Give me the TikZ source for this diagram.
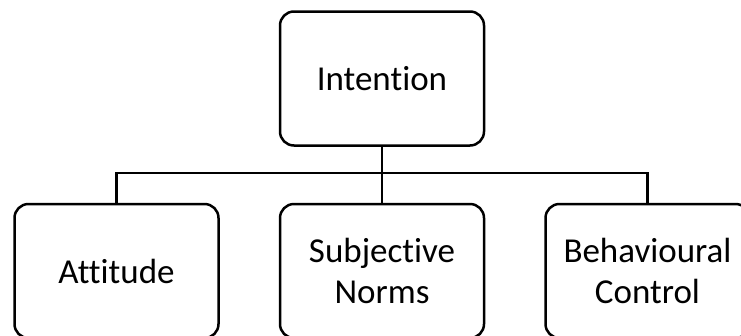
\documentclass[tikz,border=0pt]{standalone}
\usepackage{fontspec}
\setmainfont{Carlito}[Ligatures=NoCommon]
\usepackage{tikz}
\usetikzlibrary{positioning}
\tikzset{
    base/.style={draw=black, line width=2.5pt, font=\fontsize{35}{41}\selectfont, align=center, inner sep=0pt},
    box/.style={base, rectangle, rounded corners=14pt, minimum width=204pt, minimum height=134pt, fill=white},
    link/.style={draw=black, line width=2.5pt}
}

\begin{document}
\begin{tikzpicture}[x=1pt, y=1pt]
    \useasboundingbox (0,0) rectangle (741,-335);
    \node [box] (Intention) at (382,-78.5) {Intention};
    \node [box, below=56pt of Intention] (Norms) {Subjective\\Norms};
    \node [box, left=59pt of Norms] (Attitude) {Attitude};
    \node [box, right=59pt of Norms] (Control) {Behavioural\\Control};
    \coordinate [below=26pt of Intention.south] (Bus);
    \draw [link] (Intention) -- (Norms);
    \draw [link] (Attitude.north) |- (Bus) -| (Control.north);
\end{tikzpicture}
\end{document}
